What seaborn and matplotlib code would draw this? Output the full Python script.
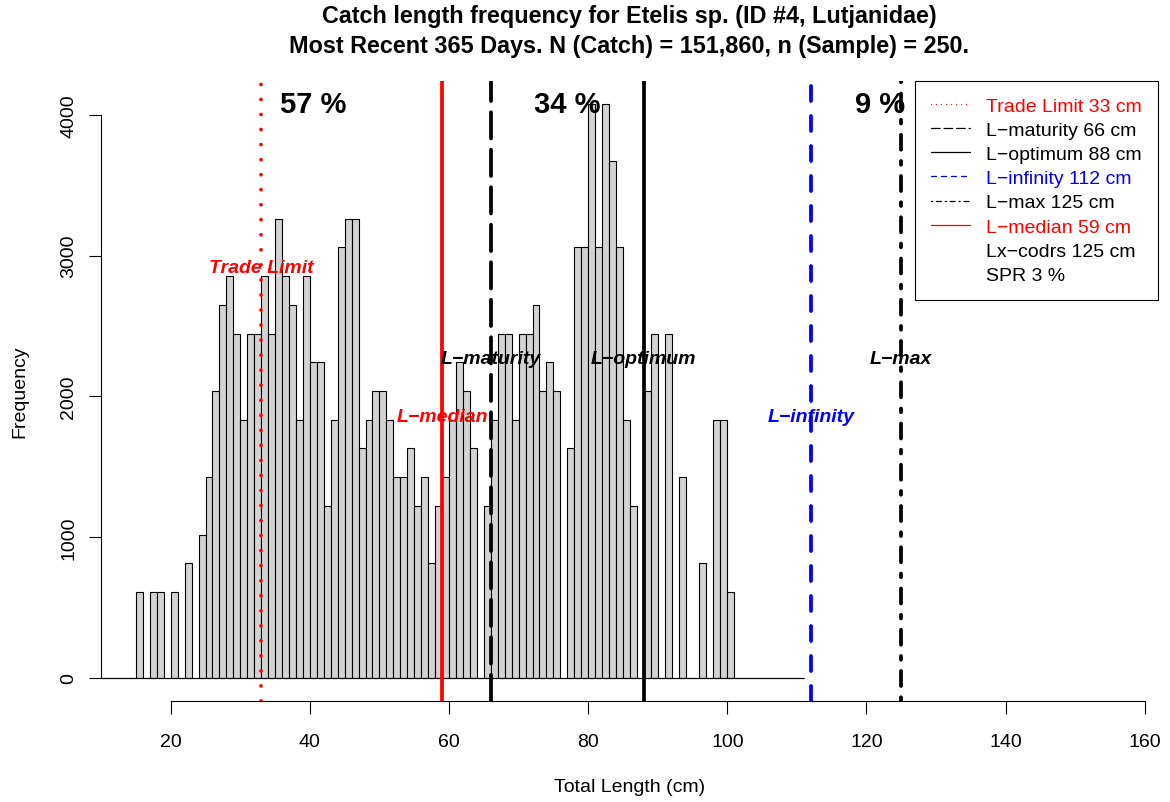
import numpy as np
import pandas as pd
import matplotlib
matplotlib.use("Agg")
import matplotlib.pyplot as plt
from matplotlib.lines import Line2D
import seaborn as sns

# ---- data -------------------------------------------------------------
# lower edge of each 1 cm length class
length_bins = list(range(10, 111))
# sampled fish per length class (10 cm ... 110 cm)
sample_counts = [
    0, 0, 0, 0, 0,                       # 10-14
    3, 0, 3, 3, 0, 3, 0, 4, 0, 5,        # 15-24
    7, 10, 13, 14, 12, 9, 12, 12, 14, 12,  # 25-34
    16, 14, 13, 9, 14, 11, 11, 6, 9, 15,   # 35-44
    16, 16, 8, 9, 10, 10, 9, 7, 7, 8,      # 45-54
    6, 7, 4, 6, 7, 9, 11, 10, 8, 0,        # 55-64
    6, 9, 12, 12, 9, 12, 12, 13, 10, 11,   # 65-74
    10, 0, 8, 15, 15, 20, 15, 20, 18, 15,  # 75-84
    9, 6, 0, 10, 12, 0, 12, 0, 7, 0,       # 85-94
    0, 4, 0, 9, 9, 3,                      # 95-100
    0, 0, 0, 0, 0, 0, 0, 0, 0, 0,          # 101-110
]
N_CATCH = 151860
N_SAMPLE = 250

# reference lengths
ref_names = ["Trade Limit", "L\u2212maturity", "L\u2212optimum",
             "L\u2212infinity", "L\u2212max", "L\u2212median"]
ref_lengths = [33, 66, 88, 112, 125, 59]
ref_colors = ["#FF0000", "black", "black", "#0000FF", "black", "#FF0000"]
ref_dashes = [(0.01, 4), (7, 3), None, (4, 4), (1, 3, 4, 3), None]
ref_label_frac = [0.715, 0.557, 0.557, 0.456, 0.557, 0.456]

extra_legend = ["Lx\u2212codrs 125 cm", "SPR 3 %"]

# share of catch below maturity, between maturity and optimum, above optimum
pct_values = [57, 34, 9]
pct_bounds = [15, 66, 88, 156]

# ---- figure -----------------------------------------------------------
sns.set_style("ticks")
plt.rcParams["font.family"] = ["Liberation Sans", "DejaVu Sans"]
plt.rcParams["text.color"] = "black"
plt.rcParams["axes.labelcolor"] = "black"
plt.rcParams["xtick.color"] = "black"
plt.rcParams["ytick.color"] = "black"

W, H = 1170, 803
fig = plt.figure(figsize=(W / 100, H / 100), dpi=100)
fig.patch.set_facecolor("white")
L, R, T, B = 101, 1158, 82, 702
ax = fig.add_axes([L / W, 1 - B / H, (R - L) / W, (B - T) / H])

df = pd.DataFrame({
    "length": np.array(length_bins) + 0.5,
    "count": np.array(sample_counts, dtype=float),
})
df["freq"] = df["count"] / df["count"].sum() * N_CATCH
edges = list(length_bins) + [length_bins[-1] + 1]

sns.histplot(data=df, x="length", weights="freq", bins=edges,
             color="#D3D3D3", edgecolor="black", linewidth=0.8,
             alpha=1, ax=ax)
ax.hlines(0, edges[0], edges[-1], color="black", lw=0.8, zorder=3)

ymax = df["freq"].max()
ax.set_xlim(9.98, 161.9)
ax.set_ylim(-0.04 * ymax, 1.04 * ymax)

# reference lines and their labels
for name, x, col, dsh, frac in zip(ref_names, ref_lengths, ref_colors,
                                   ref_dashes, ref_label_frac):
    kw = dict(color=col, lw=2.7, solid_capstyle="butt", zorder=4)
    if dsh is None:
        ax.axvline(x, ls="-", **kw)
    else:
        ax.axvline(x, ls=(0, dsh), dash_capstyle="round", **kw)
    ax.text(x, frac * ymax, name, color=col, fontsize=14,
            fontweight="bold", fontstyle="italic",
            ha="center", va="center", zorder=5)

for i, p in enumerate(pct_values):
    xm = (pct_bounds[i] + pct_bounds[i + 1]) / 2
    ax.text(xm, ymax, f"{p} %", fontsize=21, fontweight="bold",
            ha="center", va="center", zorder=5)

# axes in base-graphics style
sns.despine(ax=ax, top=True, right=True)
ax.spines["bottom"].set_bounds(20, 160)
ax.spines["left"].set_bounds(0, 4000)
for s in ("bottom", "left"):
    ax.spines[s].set_linewidth(0.8)
    ax.spines[s].set_color("black")
ax.set_xticks(np.arange(20, 161, 20))
ax.set_yticks(np.arange(0, 4001, 1000))
ax.tick_params(axis="both", which="major", direction="out", length=9,
               width=0.8, labelsize=14, colors="black",
               bottom=True, left=True, top=False, right=False)
ax.tick_params(axis="x", pad=14)
ax.tick_params(axis="y", pad=8)
for lab in ax.get_yticklabels():
    lab.set_rotation(90)
    lab.set_va("center")

ax.set_xlabel("Total Length (cm)", fontsize=14)
ax.set_ylabel("Frequency", fontsize=14)
ax.xaxis.label.set_va("center")
ax.yaxis.label.set_va("center")
ax.xaxis.set_label_coords(0.5, (B - 787) / (B - T))
ax.yaxis.set_label_coords((20 - L) / (R - L), 0.5)

# title
cx = (L + R) / 2 / W
fig.text(cx, 1 - 17 / H, "Catch length frequency for Etelis sp. (ID #4, Lutjanidae)",
         ha="center", va="center", fontsize=16.8, fontweight="bold")
fig.text(cx, 1 - 47 / H,
         f"Most Recent 365 Days. N (Catch) = {N_CATCH:,}, n (Sample) = {N_SAMPLE}.",
         ha="center", va="center", fontsize=16.8, fontweight="bold")

# legend
handles, labels, colors = [], [], []
for name, x, col, dsh in zip(ref_names, ref_lengths, ref_colors, ref_dashes):
    if dsh is None:
        h = Line2D([], [], color=col, lw=0.9, ls="-")
    else:
        h = Line2D([], [], color=col, lw=0.9, ls=(0, dsh),
                   dash_capstyle="round")
    handles.append(h)
    labels.append(f"{name} {x} cm")
    colors.append(col)
for txt in extra_legend:
    handles.append(Line2D([], [], color="none"))
    labels.append(txt)
    colors.append("black")

leg = ax.legend(handles, labels, loc="upper right", fontsize=14,
                frameon=True, fancybox=False, framealpha=1,
                edgecolor="black", borderaxespad=0, borderpad=0.82,
                handlelength=2.0, handletextpad=0.85, labelspacing=0.34)
leg.get_frame().set_linewidth(0.8)
for t, c in zip(leg.get_texts(), colors):
    t.set_color(c)

fig.savefig("out.png", dpi=100, facecolor="white")
